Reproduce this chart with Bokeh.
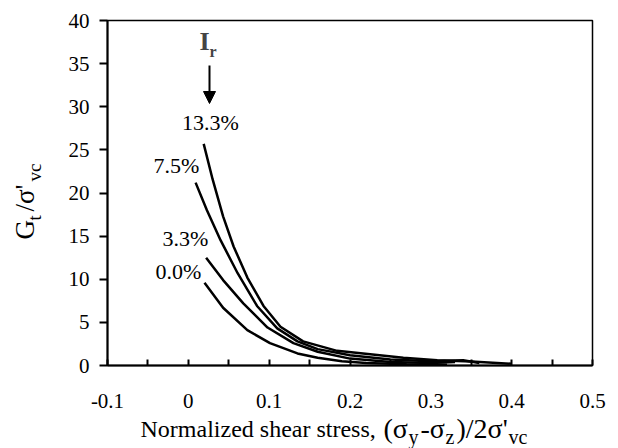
import math
from bokeh.plotting import figure
from bokeh.layouts import column, row
from bokeh.models import Label, Arrow, NormalHead, Range1d, FixedTicker
from bokeh.embed import file_html
from bokeh.resources import INLINE

# ---- data ----
ir_labels = ["0.0%", "3.3%", "7.5%", "13.3%"]

x_00 = [0.020, 0.043, 0.073, 0.101, 0.135, 0.16, 0.19, 0.22, 0.27, 0.32]
y_00 = [9.6, 6.7, 4.1, 2.6, 1.4, 0.9, 0.5, 0.3, 0.15, 0.1]

x_33 = [0.022, 0.043, 0.068, 0.098, 0.13, 0.16, 0.2, 0.25, 0.3, 0.33]
y_33 = [12.5, 9.9, 7.2, 4.4, 2.6, 1.6, 0.8, 0.4, 0.3, 0.4]

x_75 = [0.009, 0.023, 0.040, 0.061, 0.085, 0.11, 0.135, 0.16, 0.2, 0.25, 0.3, 0.34, 0.36]
y_75 = [21.2, 18.0, 14.5, 10.7, 6.9, 4.3, 2.8, 1.9, 1.2, 0.7, 0.5, 0.6, 0.3]

x_133 = [0.019, 0.030, 0.043, 0.056, 0.073, 0.093, 0.114, 0.142, 0.184, 0.225, 0.266, 0.308, 0.35, 0.4]
y_133 = [25.7, 21.6, 17.3, 13.8, 10.2, 6.9, 4.5, 2.8, 1.7, 1.3, 0.9, 0.6, 0.45, 0.2]

x_ticks = [-0.1, 0, 0.1, 0.2, 0.3, 0.4, 0.5]
x_tick_labels = ["-0.1", "0", "0.1", "0.2", "0.3", "0.4", "0.5"]
x_minor_ticks = [-0.05, 0.05, 0.15, 0.25, 0.35, 0.45]
y_ticks = [0, 5, 10, 15, 20, 25, 30, 35, 40]

# ---- layout (page pixels) ----
W, H = 618, 448
LW = 50            # width of left title strip
BH = 36            # height of bottom title strip
MH = H - BH        # main figure height
L, R, T, B = 107, 592, 20, 365   # frame edges in page pixels
X0, X1, Y0, Y1 = -0.1, 0.5, 0, 40
FONT = "Liberation Serif"
MID = 0.3375       # text-box middle above baseline, in em


def dx(px):
    return X0 + (px - L) / (R - L) * (X1 - X0)


def dy(py):
    return Y0 + (B - py) / (B - T) * (Y1 - Y0)


yr = Range1d(Y0, Y1)
p = figure(width=W - LW, height=MH, x_range=Range1d(X0, X1), y_range=yr,
           output_backend="svg", toolbar_location=None,
           min_border_left=L - LW, min_border_right=W - R,
           min_border_top=T, min_border_bottom=MH - B)
p.xgrid.visible = False
p.ygrid.visible = False
p.outline_line_color = "black"
p.outline_line_width = 1.5
p.background_fill_color = "white"
p.border_fill_color = "white"

xa = p.xaxis[0]
xa.ticker = FixedTicker(ticks=x_ticks, minor_ticks=x_minor_ticks)
xa.major_label_overrides = {t: s for t, s in zip(x_ticks, x_tick_labels)}
xa.axis_line_width = 2
xa.axis_line_color = "black"
xa.major_tick_in = 6
xa.major_tick_out = 0
xa.minor_tick_in = 6
xa.minor_tick_out = 0
xa.major_tick_line_width = 2
xa.minor_tick_line_width = 2
xa.major_label_text_font = FONT
xa.major_label_text_font_size = "21px"
xa.major_label_text_color = "black"
xa.major_label_standoff = 28

ya = p.yaxis[0]
ya.ticker = FixedTicker(ticks=y_ticks, minor_ticks=[])
ya.axis_line_width = 2
ya.axis_line_color = "black"
ya.major_tick_in = 0
ya.major_tick_out = 8
ya.major_tick_line_width = 2
ya.major_label_text_font = FONT
ya.major_label_text_font_size = "21px"
ya.major_label_text_color = "black"
ya.major_label_standoff = 10

for xs, ys in [(x_00, y_00), (x_33, y_33), (x_75, y_75), (x_133, y_133)]:
    p.line(xs, ys, line_color="black", line_width=2.5)

# curve labels (Ir values)
label_pos = [(178, 271), (185, 238), (176, 165), (210, 122)]
for txt, (px, py) in zip(ir_labels, label_pos):
    p.add_layout(Label(x=dx(px), y=dy(py), text=txt, text_font=FONT, text_font_size="22px",
                       text_align="center", text_baseline="middle", text_color="black"))

# I_r and arrow
p.add_layout(Label(x=dx(199), y=dy(50 - MID * 26), text="I", text_font=FONT, text_font_size="26px",
                   text_font_style="bold", text_align="left", text_baseline="middle"))
p.add_layout(Label(x=dx(209), y=dy(56 - MID * 16), text="r", text_font=FONT, text_font_size="16px",
                   text_font_style="bold", text_align="left", text_baseline="middle"))
p.add_layout(Arrow(x_start=dx(209), y_start=dy(65), x_end=dx(209), y_end=dy(103),
                   line_width=2, line_color="black",
                   end=NormalHead(size=12, fill_color="black", line_color="black")))


def strip(width, height, y_range):
    f = figure(width=width, height=height, x_range=Range1d(0, width), y_range=y_range,
               output_backend="svg", toolbar_location=None, x_axis_type=None, y_axis_type=None,
               min_border=0)
    f.xgrid.visible = False
    f.ygrid.visible = False
    f.outline_line_color = None
    f.background_fill_color = "white"
    f.border_fill_color = "white"
    return f


# bottom strip: x axis title.  Pieces: (text, size, advance_px, baseline_px)
bottom = strip(W, BH, Range1d(0, BH))


def put_h(fig, pieces, x0):
    x = x0
    for txt, size, adv, base in pieces:
        ymid = base - MID * size             # page y of text middle
        fig.add_layout(Label(x=x, y=H - ymid, text=txt, text_font=FONT,
                             text_font_size=f"{size}px", text_align="left",
                             text_baseline="middle", text_color="black"))
        x += adv


put_h(bottom, [("Normalized shear stress, ", 24, 243, 437),
               ("(σ", 28, 25, 437),
               ("y", 20, 12, 443),
               ("-σ", 28, 25, 437),
               ("z", 20, 11, 443),
               (")/2σ'", 28, 52, 437),
               ("vc", 20, 20, 443)], 140)

# left strip: y axis title, rotated; frame is aligned with the main frame
left = strip(LW, MH, yr)


def put_v(fig, pieces, y0):
    y = y0
    for txt, size, adv, base in pieces:
        xmid = base - MID * size
        fig.add_layout(Label(x=xmid, y=dy(y), text=txt, text_font=FONT, angle=math.pi / 2,
                             text_font_size=f"{size}px", text_align="left",
                             text_baseline="middle", text_color="black"))
        y -= adv


put_v(left, [("G", 27, 19, 34),
             ("t", 19, 9, 40),
             ("/σ'", 27, 30, 34),
             ("vc", 19, 19, 40)], 239)

layout = column(row(left, p), bottom)
open("out.html", "w").write(file_html(layout, INLINE))
